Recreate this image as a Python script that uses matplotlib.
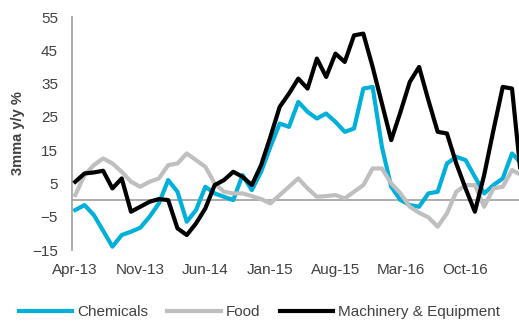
import matplotlib
matplotlib.use("Agg")
import matplotlib.pyplot as plt

plt.rcParams['font.family'] = ['Liberation Sans', 'DejaVu Sans']

# monthly points, Apr-13 .. Apr-17
months = ['Apr-13', 'May-13', 'Jun-13', 'Jul-13', 'Aug-13', 'Sep-13', 'Oct-13', 'Nov-13',
          'Dec-13', 'Jan-14', 'Feb-14', 'Mar-14', 'Apr-14', 'May-14', 'Jun-14', 'Jul-14',
          'Aug-14', 'Sep-14', 'Oct-14', 'Nov-14', 'Dec-14', 'Jan-15', 'Feb-15', 'Mar-15',
          'Apr-15', 'May-15', 'Jun-15', 'Jul-15', 'Aug-15', 'Sep-15', 'Oct-15', 'Nov-15',
          'Dec-15', 'Jan-16', 'Feb-16', 'Mar-16', 'Apr-16', 'May-16', 'Jun-16', 'Jul-16',
          'Aug-16', 'Sep-16', 'Oct-16', 'Nov-16', 'Dec-16', 'Jan-17', 'Feb-17', 'Mar-17',
          'Apr-17']

chemicals = [-3, -1.5, -4.5, -9.2, -14, -10.5, -9.5, -8.3, -5, -1, 6, 2.5,
             -6.5, -3, 4, 2, 1, 0, 7.5, 3, 8.5, 16, 23, 22,
             29.5, 26.5, 24.5, 26, 23.5, 20.5, 21.5, 33.5, 34, 16, 4, 0,
             -1.5, -2, 2, 2.5, 11, 13, 12, 7, 2, 4.5, 6.5, 14,
             11]

food = [1.5, 7.5, 10.5, 12.5, 11, 8.5, 5.5, 4, 5.5, 6.5, 10.5, 11,
        14, 12, 10, 5, 2.5, 2, 2, 1.2, 0.3, -1, 1.5, 4,
        6.5, 3.5, 1, 1.2, 1.5, 0.5, 2.5, 4.5, 9.5, 9.5, 5, 2,
        -2, -3.8, -5.2, -8, -4, 2.5, 4.5, 4.5, -2, 3.5, 4, 9,
        7.5]

machinery = [5.5, 8, 8.3, 8.8, 3.5, 6.5, -3.5, -2, -0.5, 0.3, 0, -8.5,
             -10.5, -7, -2.5, 4.5, 6, 8.5, 7, 4.5, 10.5, 19, 28, 32,
             36.5, 33.5, 42.5, 37, 44, 41.5, 49.5, 50, 40, 29, 18, 26.5,
             35.5, 40, 30, 20.5, 20, 11, 3.5, -3.5, 7.5, 21, 34, 33.5,
             6]

x = range(len(months))

fig = plt.figure(figsize=(5.19, 3.22), dpi=100)
ax = fig.add_axes([0.1387, 0.2236, 0.8613, 0.7236])

ax.axhline(0, color='#a6a6a6', linewidth=1.3, zorder=1)
ax.plot(x, chemicals, color='#00b0d8', linewidth=3, label='Chemicals', zorder=2)
ax.plot(x, food, color='#bfbfbf', linewidth=3, label='Food', zorder=3)
ax.plot(x, machinery, color='#000000', linewidth=3, label='Machinery & Equipment', zorder=4)

ax.set_xlim(-0.35, 47.75)
ax.set_ylim(-15, 55)
ax.set_yticks(range(-15, 56, 10))
ax.set_xticks(range(0, len(months), 7))
ax.set_xticklabels(months[::7])
ax.tick_params(length=0, labelsize=11, labelcolor='#404040')
ax.tick_params(axis='y', pad=10)
ax.tick_params(axis='x', pad=9)

for side in ['top', 'right', 'bottom']:
    ax.spines[side].set_visible(False)
ax.spines['left'].set_color('#a6a6a6')
ax.spines['left'].set_linewidth(1.3)

ax.set_ylabel('3mma y/y %', fontsize=10.5, fontweight='bold', color='#404040', labelpad=5)

fig.legend(loc='center', bbox_to_anchor=(0.5, 0.031), ncol=3, frameon=False,
           fontsize=11, handlelength=3.5, handletextpad=0.33, columnspacing=1.25,
           labelcolor='#404040')

fig.savefig('out.png', dpi=100)
